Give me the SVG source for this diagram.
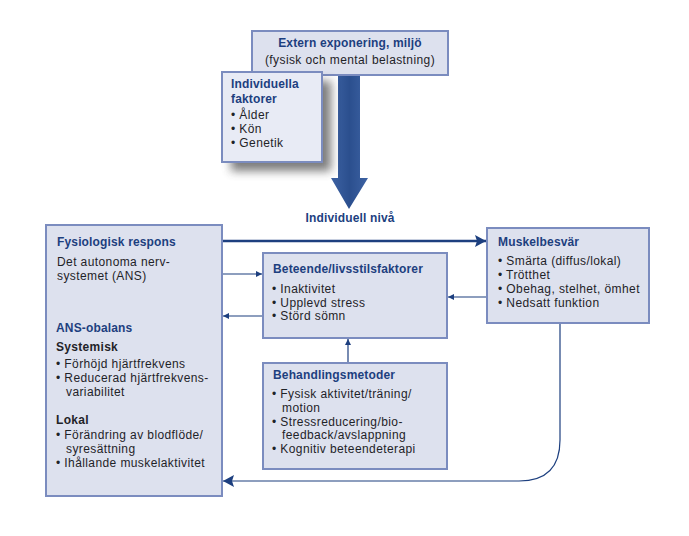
<svg xmlns="http://www.w3.org/2000/svg" width="689" height="536" viewBox="0 0 689 536">
<style>
.box{fill:#dde1ee;stroke:#7b8cbf;stroke-width:2}
.t{font-family:"Liberation Sans",Arial,sans-serif;font-size:12px;fill:#1f2328;letter-spacing:0.4px}
.h{font-family:"Liberation Sans",Arial,sans-serif;font-size:12px;font-weight:bold;fill:#1d3f7f;letter-spacing:0.15px}
.s{font-family:"Liberation Sans",Arial,sans-serif;font-size:12px;font-weight:bold;fill:#1f2328;letter-spacing:0.3px}
.c{fill:none;stroke:#1d3f7f;stroke-width:1.2}
.ct{fill:none;stroke:#1d3f7f;stroke-width:2.4}
</style>
<defs>
<marker id="ah" markerWidth="8" markerHeight="8" refX="6" refY="3" orient="auto" markerUnits="userSpaceOnUse">
<path d="M0,0 L6,3 L0,6 Z" fill="#1d3f7f"/>
</marker>
<marker id="ahb" markerWidth="14" markerHeight="14" refX="11" refY="6" orient="auto" markerUnits="userSpaceOnUse">
<path d="M0,0 L11,6 L0,12 L2,6 Z" fill="#1d3f7f"/>
</marker>
<linearGradient id="ag" x1="0" y1="0" x2="1" y2="0">
<stop offset="0" stop-color="#3d62a3"/>
<stop offset="0.5" stop-color="#2b4f8e"/>
<stop offset="1" stop-color="#3d62a3"/>
</linearGradient>
<filter id="sh" x="-30%" y="-30%" width="160%" height="160%">
<feGaussianBlur stdDeviation="5"/>
</filter>
</defs>

<g id="big-arrow">
<path d="M338,75 L360,75 L360,178 L368,178 L349,209 L331,178 L338,178 Z" fill="url(#ag)"/>
</g>

<g id="extern">
<rect class="box" x="252" y="31" width="196" height="44"/>
<text class="h" x="350" y="47" text-anchor="middle">Extern exponering, miljö</text>
<text class="t" x="350" y="64" text-anchor="middle">(fysisk och mental belastning)</text>
</g>

<g id="individuella">
<rect x="231" y="81" width="100" height="90" fill="#444" opacity="0.7" filter="url(#sh)"/>
<rect x="222" y="72" width="100" height="90" fill="#e8ebf5" stroke="#7b8cbf" stroke-width="2"/>
<text class="h" x="231" y="88">Individuella</text>
<text class="h" x="231" y="103">faktorer</text>
<text class="t" x="231" y="119">• Ålder</text>
<text class="t" x="231" y="133">• Kön</text>
<text class="t" x="231" y="147">• Genetik</text>
</g>

<g id="niva">
<text class="h" x="350" y="222" text-anchor="middle">Individuell nivå</text>
</g>

<g id="fysiologisk">
<rect class="box" x="46" y="225" width="176" height="271"/>
<text class="h" x="57" y="246">Fysiologisk respons</text>
<text class="t" x="57" y="266">Det autonoma nerv-</text>
<text class="t" x="57" y="280">systemet (ANS)</text>
<text class="h" x="56" y="332">ANS-obalans</text>
<text class="s" x="56" y="351">Systemisk</text>
<text class="t" x="56" y="368">• Förhöjd hjärtfrekvens</text>
<text class="t" x="56" y="382">• Reducerad hjärtfrekvens-</text>
<text class="t" x="66" y="396">variabilitet</text>
<text class="s" x="56" y="424">Lokal</text>
<text class="t" x="56" y="439">• Förändring av blodflöde/</text>
<text class="t" x="66" y="453">syresättning</text>
<text class="t" x="56" y="467">• Ihållande muskelaktivitet</text>
</g>

<g id="beteende">
<rect class="box" x="263" y="253" width="184" height="85"/>
<text class="h" x="273" y="273">Beteende/livsstilsfaktorer</text>
<text class="t" x="272" y="293">• Inaktivitet</text>
<text class="t" x="272" y="307">• Upplevd stress</text>
<text class="t" x="272" y="320">• Störd sömn</text>
</g>

<g id="behandling">
<rect class="box" x="263" y="363" width="184" height="106"/>
<text class="h" x="273" y="379">Behandlingsmetoder</text>
<text class="t" x="272" y="398">• Fysisk aktivitet/träning/</text>
<text class="t" x="282" y="412">motion</text>
<text class="t" x="272" y="426">• Stressreducering/bio-</text>
<text class="t" x="282" y="439">feedback/avslappning</text>
<text class="t" x="272" y="453">• Kognitiv beteendeterapi</text>
</g>

<g id="muskel">
<rect class="box" x="487" y="228" width="162" height="95"/>
<text class="h" x="498" y="246">Muskelbesvär</text>
<text class="t" x="498" y="265">• Smärta (diffus/lokal)</text>
<text class="t" x="498" y="279">• Trötthet</text>
<text class="t" x="498" y="293">• Obehag, stelhet, ömhet</text>
<text class="t" x="498" y="307">• Nedsatt funktion</text>
</g>

<g id="connectors">
<path class="ct" d="M223,241 L486,241" marker-end="url(#ahb)"/>
<path class="c" d="M223,274 L262,274" marker-end="url(#ah)"/>
<path class="c" d="M262,316 L223,316" marker-end="url(#ah)"/>
<path class="c" d="M486,297 L448,297" marker-end="url(#ah)"/>
<path class="c" d="M348,362 L348,339" marker-end="url(#ah)"/>
<path class="c" d="M560,324 L560,440 Q560,481 519,481 L223,481" stroke-width="1.6" marker-end="url(#ahb)"/>
</g>
</svg>
